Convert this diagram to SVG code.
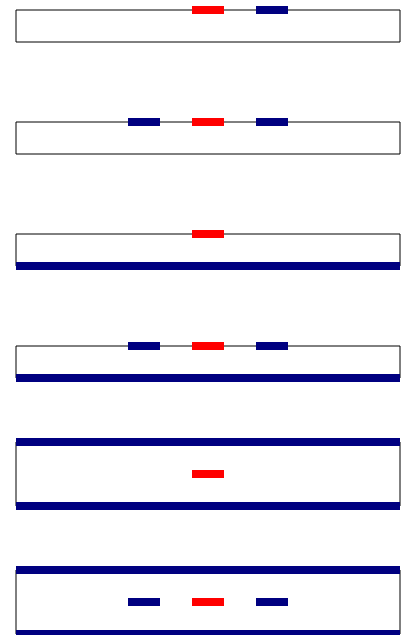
<svg xmlns="http://www.w3.org/2000/svg" width="403" height="635" viewBox="0 0 403 635">
<style>
.edge{stroke:#000;stroke-width:1;fill:none}
.red{fill:#ff0000}
.blue{fill:#000080}
</style>
<rect width="403" height="635" fill="#fff"/>
<defs>
<g id="frame32">
<line class="edge" x1="16" y1="0" x2="400" y2="0"/>
<line class="edge" x1="16" y1="32" x2="400" y2="32"/>
<line class="edge" x1="16" y1="0" x2="16" y2="32"/>
<line class="edge" x1="400" y1="0" x2="400" y2="32"/>
</g>
<g id="frame64">
<line class="edge" x1="16" y1="0" x2="16" y2="64"/>
<line class="edge" x1="400" y1="0" x2="400" y2="64"/>
</g>
</defs>
<g id="panel1">
<use href="#frame32" y="10"/>
<rect class="red" x="192" y="6" width="32" height="8"/>
<rect class="blue" x="256" y="6" width="32" height="8"/>
</g>
<g id="panel2">
<use href="#frame32" y="122"/>
<rect class="blue" x="128" y="118" width="32" height="8"/>
<rect class="red" x="192" y="118" width="32" height="8"/>
<rect class="blue" x="256" y="118" width="32" height="8"/>
</g>
<g id="panel3">
<use href="#frame32" y="234"/>
<rect class="red" x="192" y="230" width="32" height="8"/>
<rect class="blue" x="16" y="262" width="384" height="8"/>
</g>
<g id="panel4">
<use href="#frame32" y="346"/>
<rect class="blue" x="128" y="342" width="32" height="8"/>
<rect class="red" x="192" y="342" width="32" height="8"/>
<rect class="blue" x="256" y="342" width="32" height="8"/>
<rect class="blue" x="16" y="374" width="384" height="8"/>
</g>
<g id="panel5">
<use href="#frame64" y="442"/>
<rect class="blue" x="16" y="438" width="384" height="8"/>
<rect class="red" x="192" y="470" width="32" height="8"/>
<rect class="blue" x="16" y="502" width="384" height="8"/>
</g>
<g id="panel6">
<use href="#frame64" y="570"/>
<rect class="blue" x="16" y="566" width="384" height="8"/>
<rect class="blue" x="128" y="598" width="32" height="8"/>
<rect class="red" x="192" y="598" width="32" height="8"/>
<rect class="blue" x="256" y="598" width="32" height="8"/>
<rect class="blue" x="16" y="630" width="384" height="8"/>
</g>
<g id="connectors"></g>
</svg>
